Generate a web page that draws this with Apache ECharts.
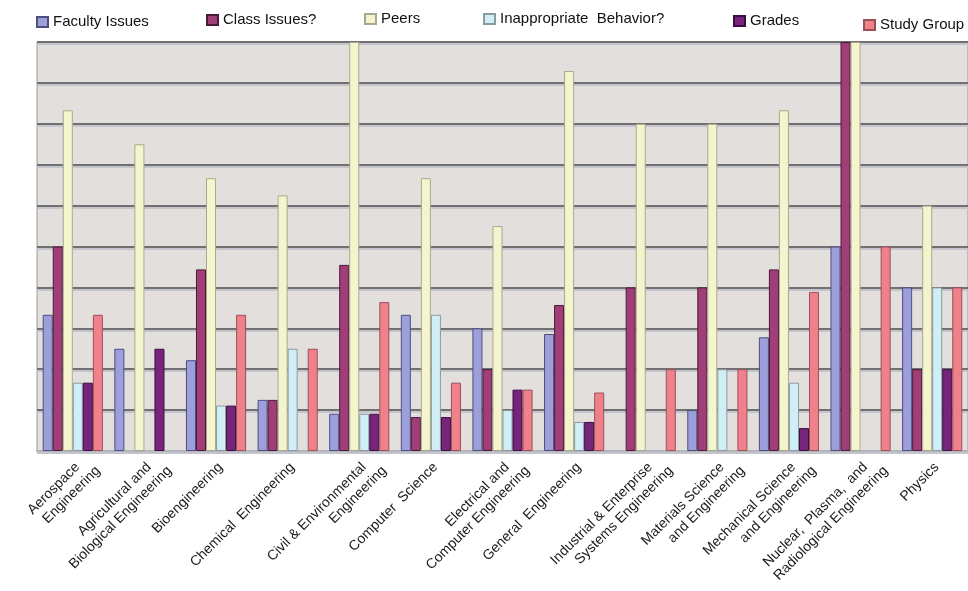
<!DOCTYPE html>
<html>
<head>
<meta charset="utf-8">
<script src="https://cdn.jsdelivr.net/npm/echarts@6/dist/echarts.min.js"></script>
<style>
  html, body { margin: 0; padding: 0; background: #ffffff; }
  #chart { width: 968px; height: 591px; }
</style>
</head>
<body>
<div id="chart"></div>
<script>
// Departments (multi-line names use \n)
const departments = [
  'Aerospace\nEngineering',
  'Agricultural and\nBiological Engineering',
  'Bioengineering',
  'Chemical  Engineering',
  'Civil & Environmental\nEngineering',
  'Computer  Science',
  'Electrical and\nComputer Engineering',
  'General  Engineering',
  'Industrial & Enterprise\nSystems Engineering',
  'Materials Science\nand Engineering',
  'Mechanical Science\nand Engineering',
  'Nuclear,  Plasma,  and\nRadiological Engineering',
  'Physics'
];

// Share of responses per department (%)
const facultyIssues = [33.3, 25, 22.2, 12.5, 9.1, 33.3, 30, 28.6, 0, 10, 27.8, 50, 40];
const classIssues   = [50, 0, 44.4, 12.5, 45.5, 8.3, 20, 35.7, 40, 40, 44.4, 100, 20];
const peers         = [83.3, 75, 66.7, 62.5, 100, 66.7, 55, 92.9, 80, 80, 83.3, 100, 60];
const inappropriate = [16.7, 0, 11.1, 25, 9.1, 33.3, 10, 7.1, 0, 20, 16.7, 0, 40];
const grades        = [16.7, 25, 11.1, 0, 9.1, 8.3, 15, 7.1, 0, 0, 5.6, 0, 20];
const studyGroup    = [33.3, 0, 33.3, 25, 36.4, 16.7, 15, 14.3, 20, 20, 38.9, 50, 40];

const seriesNames = ['Faculty Issues', 'Class Issues?', 'Peers', 'Inappropriate  Behavior?', 'Grades', 'Study Group'];
const seriesValues = [facultyIssues, classIssues, peers, inappropriate, grades, studyGroup];
const fills   = ['#9c9fd9', '#9f3e77', '#f4f5cc', '#d0eef5', '#77247b', '#f0808a'];
const borders = ['#4c4f80', '#4a1a38', '#a8a890', '#8a9aa0', '#3a1040', '#9a5058'];

// Legend placement: [left, top]
const legendPos = [[36, 14], [206, 12], [364, 11], [483, 11], [733, 13], [863, 17]];

const FONT = '"Liberation Sans", Arial, sans-serif';

const chart = echarts.init(document.getElementById('chart'), null, { renderer: 'canvas' });

const legends = seriesNames.map((name, i) => ({
  data: [name],
  left: legendPos[i][0],
  top: legendPos[i][1],
  orient: 'horizontal',
  padding: 0,
  icon: 'rect',
  itemWidth: 11,
  itemHeight: 10,
  selectedMode: false,
  textStyle: { fontFamily: FONT, fontSize: 15, color: '#111', lineHeight: 16 }
}));

// A zero share draws no bar at all
const series = seriesNames.map((name, i) => ({
  name: name,
  type: 'bar',
  data: seriesValues[i].map(v => (v === 0 ? '-' : v)),
  barGap: '0%',
  barCategoryGap: '16%',
  itemStyle: { color: fills[i], borderColor: borders[i], borderWidth: 1 },
  emphasis: { disabled: true },
  animation: false
}));

const labelText = { fontFamily: FONT, fontSize: 14, color: '#1a1a1a', lineHeight: 17 };

chart.setOption({
  animation: false,
  backgroundColor: '#ffffff',
  legend: legends,
  grid: {
    left: 37,
    top: 42,
    width: 935,
    bottom: 140,
    show: true,
    backgroundColor: '#e3dfdd',
    borderColor: '#9a9a9a',
    borderWidth: 1,
    containLabel: false
  },
  xAxis: {
    type: 'category',
    data: departments,
    axisLine: { show: true, lineStyle: { color: '#b4b4bc', width: 2 } },
    axisTick: { show: false },
    axisLabel: {
      interval: 0,
      rotate: 45,
      margin: 8,
      align: 'right',
      verticalAlign: 'top',
      padding: [-1, -11, 0, 0],
      color: '#1a1a1a',
      fontFamily: FONT,
      fontSize: 14,
      // first line is stepped back so the second line runs past it
      formatter: function (v) {
        return v.split('\n').map((s, k) => (k === 0 ? '{a|' : '{b|') + s + '}').join('\n');
      },
      rich: {
        a: Object.assign({ align: 'right', padding: [0, 12, 0, 0] }, labelText),
        b: Object.assign({ align: 'right' }, labelText)
      }
    }
  },
  yAxis: {
    type: 'value',
    min: 0,
    max: 100,
    interval: 10,
    axisLine: { show: false },
    axisTick: { show: false },
    axisLabel: { show: false },
    splitLine: {
      show: true,
      lineStyle: { color: '#707070', width: 2, shadowColor: '#c4c4cc', shadowOffsetY: 2, shadowBlur: 0 }
    }
  },
  series: series
});
</script>
</body>
</html>
